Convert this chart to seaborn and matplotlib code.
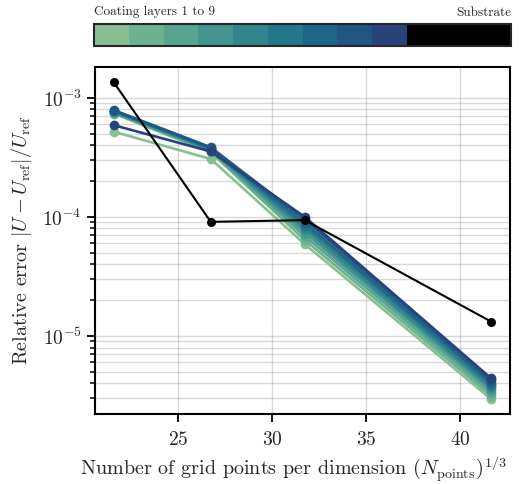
import numpy as np
import pandas as pd
import matplotlib
matplotlib.use("Agg")
import matplotlib.pyplot as plt
import matplotlib.colors as mcolors
import matplotlib.ticker as mticker
import seaborn as sns

# ---- data ----
grid_points = [21.6, 26.75, 31.75, 41.65]
layer1 = [5.2e-4, 3.07e-4, 5.9e-5, 2.95e-6]
layer2 = [7.4e-4, 3.5e-4, 6.4e-5, 3.15e-6]
layer3 = [7.5e-4, 3.6e-4, 6.9e-5, 3.35e-6]
layer4 = [7.6e-4, 3.65e-4, 7.4e-5, 3.55e-6]
layer5 = [7.7e-4, 3.7e-4, 7.9e-5, 3.7e-6]
layer6 = [7.75e-4, 3.75e-4, 8.4e-5, 3.9e-6]
layer7 = [7.8e-4, 3.8e-4, 8.9e-5, 4.05e-6]
layer8 = [7.9e-4, 3.85e-4, 9.5e-5, 4.25e-6]
layer9 = [5.9e-4, 3.55e-4, 1.0e-4, 4.4e-6]
substrate = [1.35e-3, 9.1e-5, 9.4e-5, 1.32e-5]
layers = [layer1, layer2, layer3, layer4, layer5, layer6, layer7, layer8, layer9]
layer_names = [f"Layer {i}" for i in range(1, 10)]

cbar_left_label = "Coating layers 1 to 9"
cbar_right_label = "Substrate"
xlabel = r"Number of grid points per dimension $(N_\mathrm{points})^{1/3}$"
ylabel = r"Relative error $|U - U_\mathrm{ref}|/U_\mathrm{ref}$"

rows = []
for name, vals in zip(layer_names, layers):
    for x, v in zip(grid_points, vals):
        rows.append({"x": x, "err": v, "layer": name})
df = pd.DataFrame(rows)
df_sub = pd.DataFrame({"x": grid_points, "err": substrate})

sns.set_style("ticks")
plt.rcParams["font.family"] = "serif"
plt.rcParams["font.serif"] = ["cmr10"]
plt.rcParams["mathtext.fontset"] = "cm"
plt.rcParams["axes.formatter.use_mathtext"] = True
plt.rcParams["axes.unicode_minus"] = False

palette = sns.color_palette("crest", 9)

fig = plt.figure(figsize=(5.24, 4.84), dpi=100)
ax = fig.add_axes([95/524, 1-414/484, (510-95)/524, (414-67)/484])

sns.lineplot(data=df, x="x", y="err", hue="layer", palette=palette,
             marker="o", markersize=7, markeredgewidth=0, linewidth=1.9,
             legend=False, ax=ax, zorder=3)
sns.lineplot(data=df_sub, x="x", y="err", color="black", marker="o",
             markersize=6.5, markeredgewidth=0, linewidth=1.5, ax=ax, zorder=4)

ax.set_yscale("log")
ax.set_ylim(2.21e-6, 1.82e-3)
ax.xaxis.set_major_locator(mticker.MultipleLocator(5))
ax.grid(True, which="major", axis="x", color="gray", alpha=0.3, linewidth=1.0)
ax.grid(True, which="both", axis="y", color="gray", alpha=0.3, linewidth=1.0)
ax.set_xlabel(xlabel, fontsize=14.5)
ax.xaxis.set_label_coords(0.478, -0.118)
ax.xaxis.get_label().set_va("top")
ax.set_ylabel(ylabel, fontsize=14.5, labelpad=6)
ax.tick_params(axis="both", which="major", labelsize=14, width=1.3, length=6, color="black")
ax.tick_params(axis="x", which="major", pad=6)
ax.tick_params(axis="y", which="minor", width=1.1, length=3.5, color="black")
for s in ax.spines.values():
    s.set_linewidth(1.5)
    s.set_color("black")

# ---- colorbar ----
cax = fig.add_axes([94/524, 1-46/484, (511-94)/524, 22/484])
cmap = mcolors.ListedColormap(list(palette) + ["black"] * 3)
norm = mcolors.BoundaryNorm(np.arange(13), cmap.N)
cb = matplotlib.colorbar.ColorbarBase(cax, cmap=cmap, norm=norm, orientation="horizontal")
cb.set_ticks([])
cax.minorticks_off()
cax.tick_params(which="both", length=0)
cb.outline.set_linewidth(1.5)
cax.text(0, 1.25, cbar_left_label, transform=cax.transAxes, ha="left", va="bottom", fontsize=9.5)
cax.text(1, 1.25, cbar_right_label, transform=cax.transAxes, ha="right", va="bottom", fontsize=9.5)

fig.savefig("out.png", dpi=100)
